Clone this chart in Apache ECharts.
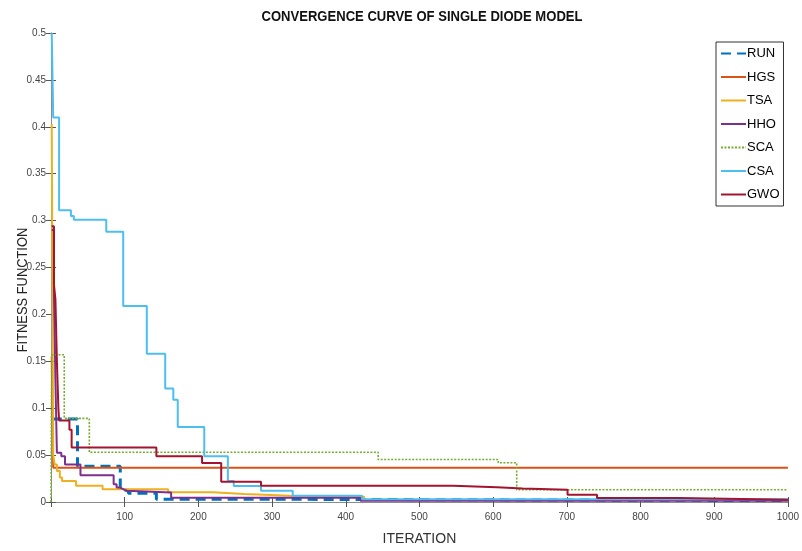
<!DOCTYPE html>
<html>
<head>
<meta charset="utf-8">
<script src="https://cdn.jsdelivr.net/npm/echarts@6/dist/echarts.min.js"></script>
<style>
html,body{margin:0;padding:0;background:#fff;}
#chart{width:802px;height:551px;}
</style>
</head>
<body>
<div id="chart"></div>
<script>
// Series names (legend order)
const seriesNames = ['RUN', 'HGS', 'TSA', 'HHO', 'SCA', 'CSA', 'GWO'];
// Breakpoints of each convergence curve: [iteration, fitness]
const RUN = [[1,0.0884],[36,0.038],[94,0.0125],[105,0.0092],[143,0.003],[250,0.0015],[1000,0.0015]];
const HGS = [[1,0.155],[3,0.0365],[1000,0.0365]];
const TSA = [[1,0.403],[3,0.05],[5,0.04],[8,0.033],[12,0.026],[15,0.0225],[34,0.0172],[70,0.0137],[159,0.0105],[220,0.0084],[262,0.0066],[325,0.0056],[425,0.002],[1000,0.002]];
const HHO = [[1,0.29],[4,0.22],[6,0.13],[8,0.0526],[14,0.0487],[19,0.04],[40,0.0285],[85,0.019],[89,0.0155],[93,0.0137],[98,0.012],[103,0.0102],[163,0.0045],[420,0.0012],[1000,0.0012]];
const SCA = [[0,0],[1,0.157],[18,0.0892],[52,0.053],[444,0.0453],[607,0.0418],[632,0.013],[1000,0.013]];
const CSA = [[1,0.5],[3,0.41],[11,0.311],[27,0.305],[31,0.301],[75,0.288],[98,0.209],[130,0.158],[155,0.121],[166,0.109],[172,0.08],[208,0.0487],[240,0.0225],[248,0.017],[285,0.012],[328,0.0066],[422,0.003],[1000,0.003]];
const GWO = [[1,0.294],[4,0.232],[6,0.216],[8,0.15],[10,0.10],[11,0.087],[25,0.077],[28,0.058],[143,0.0487],[205,0.0415],[231,0.0216],[285,0.0172],[546,0.0157],[605,0.0144],[640,0.013],[701,0.0077],[741,0.0042],[852,0.0024],[1000,0.0024]];
// Axis ticks
const xTicks = [100, 200, 300, 400, 500, 600, 700, 800, 900, 1000];
const yTicks = [0, 0.05, 0.1, 0.15, 0.2, 0.25, 0.3, 0.35, 0.4, 0.45, 0.5];

const dataMap = {RUN, HGS, TSA, HHO, SCA, CSA, GWO};
const colors = {RUN:'#0072BD', HGS:'#D95319', TSA:'#EDB120', HHO:'#7E2F8E', SCA:'#77AC30', CSA:'#4DBEEE', GWO:'#A2142F'};
const lineTypes = {RUN:[10,6], SCA:[2,1.5]};
const widths = {RUN:3, SCA:1.6};

const SANS = '"Liberation Sans", Arial, sans-serif';
const axisColor = '#8c8c8c';

const chart = echarts.init(document.getElementById('chart'), null, {renderer:'canvas'});

const series = seriesNames.map(n => ({
  name: n,
  type: 'line',
  step: 'end',
  symbol: 'none',
  data: dataMap[n],
  color: colors[n],
  lineStyle: {color: colors[n], width: widths[n] || 2, type: lineTypes[n] || 'solid'},
  animation: false
}));

const xMax = xTicks[xTicks.length-1];
const yMax = yTicks[yTicks.length-1];

chart.setOption({
  animation: false,
  backgroundColor: '#fff',
  grid: {left: 51, right: 11, top: 33, bottom: 43, show: false},
  legend: {
    data: seriesNames,
    orient: 'vertical',
    left: 716, top: 42,
    padding: [5, 4, 5, 4],
    itemWidth: 25, itemHeight: 14, itemGap: 10.5,
    itemStyle: {opacity: 0},
    backgroundColor: '#fff',
    borderColor: '#333', borderWidth: 1, borderRadius: 0,
    textStyle: {fontFamily: SANS, fontSize: 13, color: '#000', padding: [0,0,0,-4]}
  },
  xAxis: [{
    type: 'value', min: 0, max: xMax, interval: 100,
    name: 'ITERATION', nameLocation: 'middle', nameGap: 30,
    nameTextStyle: {fontFamily: SANS, fontSize: 14, color: '#333'},
    axisLine: {show: true, lineStyle: {color: axisColor, width: 1}},
    axisTick: {show: true, inside: true, length: 5, lineStyle: {color: '#555'}},
    axisLabel: {fontFamily: SANS, fontSize: 10, color: '#444', margin: 10,
      formatter: v => (v === 0 ? '' : String(v))},
    splitLine: {show: false}
  }, {
    type: 'value', min: 0, max: xMax, interval: 100, position: 'top',
    axisLine: {show: true, lineStyle: {color: axisColor, width: 1}},
    axisTick: {show: true, inside: true, length: 5, lineStyle: {color: '#555'}},
    axisLabel: {show: false}, splitLine: {show: false}
  }],
  yAxis: [{
    type: 'value', min: 0, max: yMax, interval: 0.05,
    axisLine: {show: true, lineStyle: {color: axisColor, width: 1}},
    axisTick: {show: true, inside: true, length: 5, lineStyle: {color: '#555'}},
    axisLabel: {fontFamily: SANS, fontSize: 10, color: '#444', margin: 5,
      formatter: v => String(parseFloat(v.toFixed(2)))},
    splitLine: {show: false}
  }, {
    type: 'value', min: 0, max: yMax, interval: 0.05, position: 'right',
    axisLine: {show: true, lineStyle: {color: axisColor, width: 1}},
    axisTick: {show: true, inside: true, length: 5, lineStyle: {color: '#555'}},
    axisLabel: {show: false}, splitLine: {show: false}
  }],
  graphic: [{
    type: 'text',
    x: 422, y: 17,
    scaleX: 0.87,
    style: {text: 'CONVERGENCE CURVE OF SINGLE DIODE MODEL', font: 'bold 15px "Liberation Sans", Arial, sans-serif',
      fill: '#111', align: 'center', verticalAlign: 'middle'}
  }, {
    type: 'text',
    x: 23, y: 290,
    rotation: Math.PI / 2,
    scaleX: 0.92,
    style: {text: 'FITNESS FUNCTION', font: '14px "Liberation Sans", Arial, sans-serif', fill: '#222',
      align: 'center', verticalAlign: 'middle'}
  }],
  series: series
});
</script>
</body>
</html>
